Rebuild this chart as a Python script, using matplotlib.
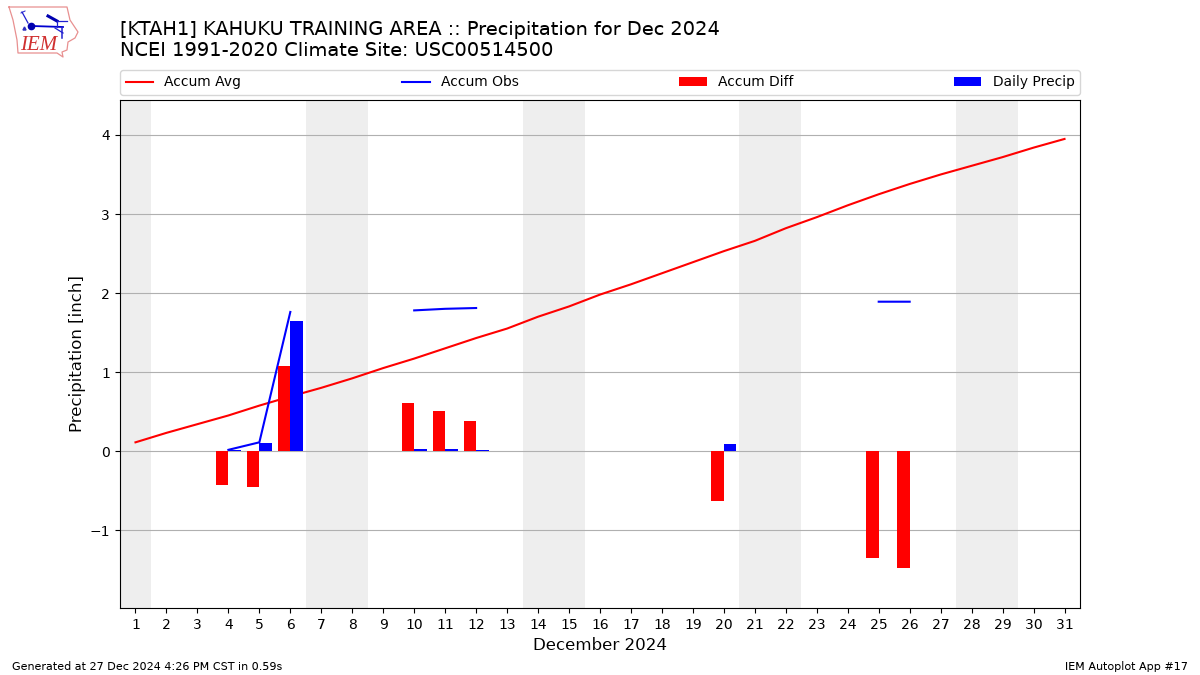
import matplotlib
matplotlib.use('Agg')
import matplotlib.pyplot as plt
import numpy as np

plt.rcParams['text.hinting'] = 'default'

days = list(range(1, 32))
accum_avg = [0.11, 0.23, 0.34, 0.45, 0.575, 0.69, 0.80, 0.92, 1.05, 1.17, 1.30,
             1.43, 1.55, 1.70, 1.83, 1.98, 2.11, 2.25, 2.39, 2.53, 2.66, 2.82,
             2.96, 3.11, 3.25, 3.38, 3.50, 3.61, 3.72, 3.84, 3.95]
# gaps are missing obs days
obs_days = [4, 5, 6, None, 10, 11, 12, None, 25, 26]
accum_obs = [0.015, 0.11, 1.76, None, 1.78, 1.80, 1.81, None, 1.89, 1.89]
diff_days = [4, 5, 6, 10, 11, 12, 20, 25, 26]
accum_diff = [-0.43, -0.455, 1.075, 0.61, 0.505, 0.38, -0.635, -1.355, -1.48]
precip_days = [4, 5, 6, 10, 11, 12, 20]
daily_precip = [0.01, 0.10, 1.65, 0.02, 0.02, 0.01, 0.09]
weekends = [(0.5, 1.5), (6.5, 8.5), (13.5, 15.5), (20.5, 22.5), (27.5, 29.5)]

fig = plt.figure(figsize=(12, 6.75), dpi=100)
ax = fig.add_axes([120 / 1200, 1 - 608 / 675, 960 / 1200, 508 / 675])

for lo, hi in weekends:
    ax.axvspan(lo, hi, color='#eeeeee', lw=0, zorder=0)

ax.plot(days, accum_avg, color='r', lw=1.5, label='Accum Avg', zorder=2)
ox = np.array(obs_days, dtype=float)
oy = np.array(accum_obs, dtype=float)
ax.plot(ox, oy, color='b', lw=1.5, label='Accum Obs', zorder=2.1)
ax.bar(diff_days, accum_diff, width=-0.4, align='edge', color='r', label='Accum Diff', zorder=3)
ax.bar(precip_days, daily_precip, width=0.4, align='edge', color='b', label='Daily Precip', zorder=3)

ax.set_xlim(0.5, 31.5)
ax.set_ylim(-1.987, 4.443)
ax.set_xticks(days)
ax.set_yticks([-1, 0, 1, 2, 3, 4])
ax.grid(axis='y', color='#b0b0b0', lw=0.8, zorder=1)
ax.set_axisbelow(True)
ax.set_xlabel('December 2024', fontsize=12)
ax.set_ylabel('Precipitation [inch]', fontsize=12, labelpad=3)
ax.legend(loc='lower left', bbox_to_anchor=(0, 1.01, 1, 0.05), mode='expand', ncol=4,
          borderaxespad=0, fontsize=10)

fig.text(120 / 1200, 1 - 40.5 / 675,
         '[KTAH1] KAHUKU TRAINING AREA :: Precipitation for Dec 2024\n'
         'NCEI 1991-2020 Climate Site: USC00514500',
         fontsize=13.93, va='center')
fig.text(12 / 1200, 1 - 666 / 675, 'Generated at 27 Dec 2024 4:26 PM CST in 0.59s', fontsize=8, va='center')
fig.text(1188 / 1200, 1 - 666 / 675, 'IEM Autoplot App #17', fontsize=8, va='center', ha='right')

# logo, in pixel coords
logo = fig.add_axes([0, 1 - 60 / 675, 85 / 1200, 60 / 675])
logo.set_xlim(0, 85)
logo.set_ylim(60, 0)
logo.axis('off')
state_x = [9, 67, 70, 78, 75, 68, 67, 62, 63, 57, 18, 17, 13, 9]
state_y = [7, 7, 20, 32, 38, 42, 50, 52, 57, 53, 53, 40, 20, 7]
logo.plot(state_x, state_y, color='#e89090', lw=0.9)
logo.plot([32, 63], [26, 27], color='#0000d0', lw=1.3)
logo.plot([22, 28], [12, 23], color='#2020d0', lw=0.9)
logo.plot([21, 25], [13, 11], color='#2020d0', lw=0.7)
logo.plot([31], [26], 'o', color='#0000b0', ms=4.5)
logo.plot([24], [28], '^', color='#3030c0', ms=2.2)
logo.plot([48, 57], [16, 21], color='#0000b0', lw=2.2)
logo.plot([57, 67], [21, 21], color='#2020d0', lw=0.9)
logo.plot([57, 57], [21, 27], color='#2020d0', lw=0.9)
logo.plot([55, 63], [28, 33], color='#2020d0', lw=0.9)
logo.plot([62, 62], [28, 38], color='#2020d0', lw=1.1)
logo.text(20, 45, 'IEM', color='#d03030', fontsize=15, family='Liberation Serif', style='italic', va='center')

fig.savefig('out.png', dpi=100)
